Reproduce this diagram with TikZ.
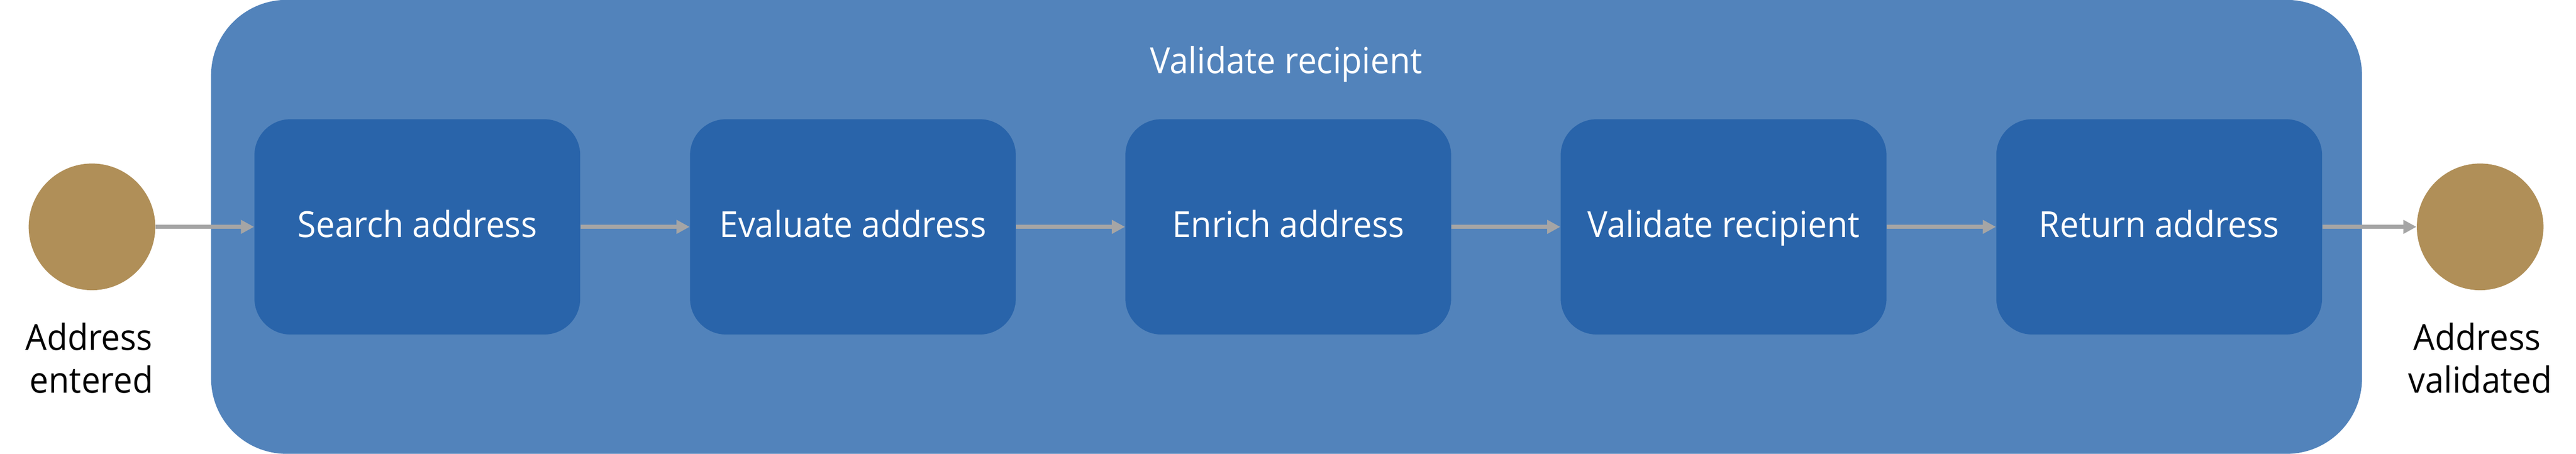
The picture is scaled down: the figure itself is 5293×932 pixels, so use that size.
\documentclass[tikz,border=0pt]{standalone}
\usepackage{fontspec}
\setmainfont[FakeStretch=0.94]{Open Sans}
\usetikzlibrary{arrows.meta}
\definecolor{outerblue}{RGB}{82,131,187}
\definecolor{innerblue}{RGB}{41,100,170}
\definecolor{eventgold}{RGB}{176,143,88}
\definecolor{arrowgray}{RGB}{165,165,165}
\tikzset{
  txt/.style={font=\fontsize{21}{25}\selectfont},
  frame/.style={rectangle, fill=outerblue, rounded corners=1.55cm, minimum width=44.17cm, minimum height=9.32cm, inner sep=0pt},
  stepbox/.style={rectangle, fill=innerblue, rounded corners=0.74cm, minimum width=6.69cm, minimum height=4.42cm, inner sep=0pt, text=white, txt, text height=14.76pt, text depth=2.26pt},
  event/.style={circle, fill=eventgold, minimum size=2.6cm, inner sep=0pt},
  evlabel/.style={anchor=base, text=black, txt, inner sep=0pt},
  flow/.style={draw=arrowgray, line width=0.08cm, -{Triangle[length=0.27cm,width=0.27cm]}}
}
\begin{document}
\begin{tikzpicture}[x=0.01cm,y=-0.01cm]
\useasboundingbox (0,0) rectangle (5293,932);
\node[frame] (frame) at (2643.5,466) {};
\node[txt, text=white, anchor=base, inner sep=0pt] (title) at (2643,151) {Validate recipient};
\node[event] (start) at (189,466) {};
\node[event] (finish) at (5096,466) {};
\node[evlabel] (startA) at (183,719) {Address};
\node[evlabel] (startB) at (188,807) {entered};
\node[evlabel] (finishA) at (5090,719) {Address};
\node[evlabel] (finishB) at (5096,807) {validated};
\node[stepbox] (s1) at (857.5,466) {Search address};
\node[stepbox] (s2) at (1752.5,466) {Evaluate address};
\node[stepbox] (s3) at (2647,466) {Enrich address};
\node[stepbox] (s4) at (3541.5,466) {Validate recipient};
\node[stepbox] (s5) at (4436.5,466) {Return address};
\draw[flow] (start.east) -- (s1.west);
\draw[flow] (s1.east) -- (s2.west);
\draw[flow] (s2.east) -- (s3.west);
\draw[flow] (s3.east) -- (s4.west);
\draw[flow] (s4.east) -- (s5.west);
\draw[flow] (s5.east) -- (finish.west);
\end{tikzpicture}
\end{document}
